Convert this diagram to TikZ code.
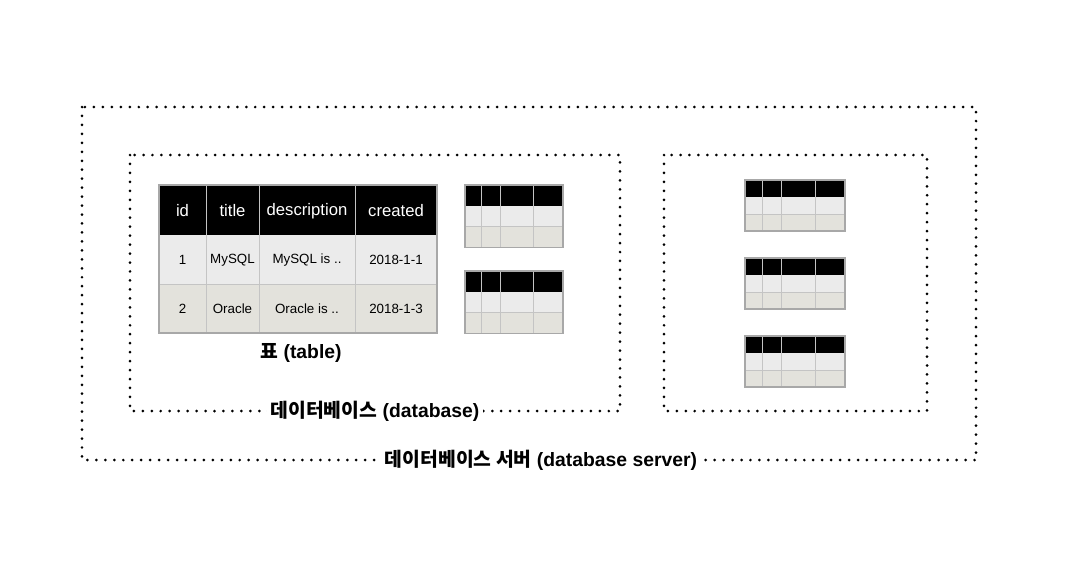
\documentclass[tikz,border=0pt]{standalone}
\usepackage{fontspec}
\setmainfont{Liberation Sans}
\newfontfamily\cjk{Noto Sans CJK KR}
\usetikzlibrary{positioning}

\definecolor{rowa}{HTML}{EBEBEB}
\definecolor{rowb}{HTML}{E3E2DC}
\definecolor{gridline}{HTML}{C4C4C4}
\definecolor{frameline}{HTML}{A8A8A8}

\tikzset{
	dotbox/.style={line width=1.7pt, line cap=round, dash pattern=on 0pt off 5.1pt},
	headcell/.style={text=white, font=\fontsize{9.5}{11}\selectfont},
	cell/.style={text=black, font=\fontsize{7.6}{9}\selectfont},
	boxlabel/.style={fill=white, inner sep=2pt, font=\fontsize{11}{13}\selectfont\bfseries}
}

% small table: x, y, width, row height
\newcommand{\minitab}[4]{
	\fill[black] (#1,#2) rectangle ++(#3,#4);
	\fill[rowa] (#1,#2+#4) rectangle ++(#3,#4);
	\fill[rowb] (#1,#2+2*#4) rectangle ++(#3,#4);
	\foreach \f in {0.17,0.36,0.70}
		\draw[gridline, line width=0.5pt] (#1+\f*#3,#2) -- ++(0,3*#4);
	\draw[gridline, line width=0.5pt] (#1,#2+2*#4) -- ++(#3,0);
	\draw[frameline, line width=0.6pt] (#1,#2) rectangle ++(#3,3*#4);
}

\begin{document}
\begin{tikzpicture}[x=0.02cm, y=-0.02cm]
	\useasboundingbox (0,0) rectangle (1076,569);
	% Draw dotted boxes
	\draw[dotbox] (82,107) rectangle (976,460);
	\draw[dotbox] (130,155) rectangle (620,411);
	\draw[dotbox] (664,155) rectangle (927,411);
	% Draw main table
	\fill[black] (159,185) rectangle (437,235);
	\fill[rowa] (159,235) rectangle (437,284);
	\fill[rowb] (159,284) rectangle (437,333);
	\foreach \x in {206,259,355}
		\draw[gridline, line width=0.5pt] (\x,185) -- (\x,333);
	\draw[gridline, line width=0.5pt] (159,284) -- (437,284);
	\draw[frameline, line width=0.6pt] (159,185) rectangle (437,333);
	% Header and rows
	\node[headcell] (hid) at (182.5,211) {id};
	\node[headcell] (htitle) at (232.5,211) {title};
	\node[headcell] (hdesc) at (307,211) {description};
	\node[headcell] (hcreated) at (396,211) {created};
	\node[cell] (aid) at (182.5,260) {1};
	\node[cell] (atitle) at (232.5,260) {MySQL};
	\node[cell] (adesc) at (307,260) {MySQL is ..};
	\node[cell] (acreated) at (396,260) {2018-1-1};
	\node[cell] (bid) at (182.5,309) {2};
	\node[cell] (btitle) at (232.5,309) {Oracle};
	\node[cell] (bdesc) at (307,309) {Oracle is ..};
	\node[cell] (bcreated) at (396,309) {2018-1-3};
	% Draw small tables
	\minitab{465}{185}{98}{20.7}
	\minitab{465}{271}{98}{20.7}
	\minitab{745}{180}{100}{17}
	\minitab{745}{258}{100}{17}
	\minitab{745}{336}{100}{17}
	% Labels
	\node[boxlabel, fill=none] (tablelabel) at (301,353) {{\cjk 표} (table)};
	\node[boxlabel] (dblabel) at (375,411) {{\cjk 데이터베이스} (database)};
	\node[boxlabel] (serverlabel) at (541,460) {{\cjk 데이터베이스 서버} (database server)};
\end{tikzpicture}
\end{document}
